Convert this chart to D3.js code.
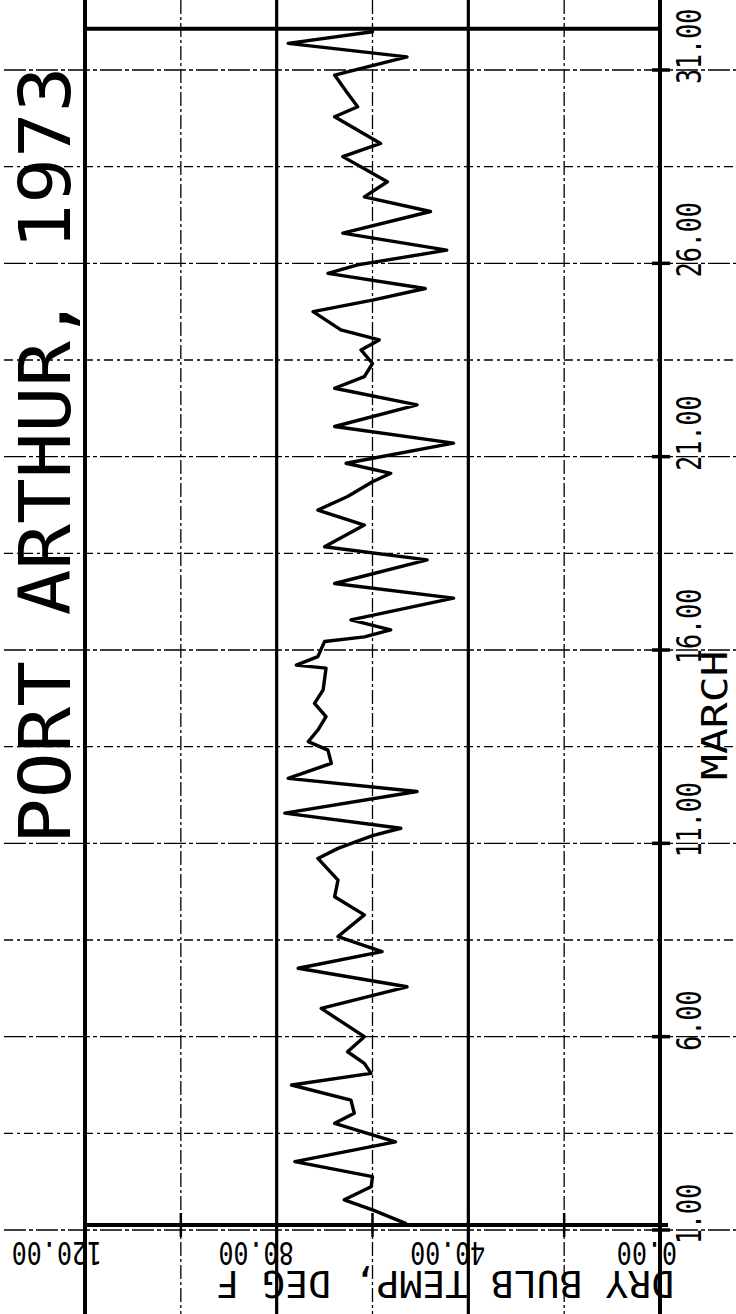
<!DOCTYPE html>
<html><head><meta charset="utf-8">
<script src="https://cdn.jsdelivr.net/npm/d3@7/dist/d3.min.js"></script>
<style>html,body{margin:0;padding:0;background:#fff;} svg{display:block;}</style>
</head><body>
<svg id="c" width="736" height="1314"></svg>
<script>
// ---- data ----
const titleText = "PORT ARTHUR, 1973";
const xAxisTitle = "MARCH";
const yAxisTitle = "DRY BULB TEMP, DEG F";
const dayTicks = [1, 6, 11, 16, 21, 26, 31];
const dayTickLabels = ["1.00", "6.00", "11.00", "16.00", "21.00", "26.00", "31.00"];
const dayGrid = [1, 3.5, 6, 8.5, 11, 13.5, 16, 18.5, 21, 23.5, 26, 28.5, 31];
const tempTicks = [0, 40, 80, 120];
const tempTickLabels = ["0.00", "40.00", "80.00", "120.00"];
const tempMinorGrid = [20, 60, 100];
const frameDays = [1.13, 32.07];

const days = [1.17,1.52,1.78,2.12,2.38,2.77,3.28,3.76,4.02,4.36,4.75,5.05,5.31,5.61,6.0,6.73,7.29,7.77,8.2,8.59,9.15,9.62,10.05,10.61,10.87,
  11.2,11.39,11.78,12.34,12.68,13.07,13.41,13.63,13.93,14.28,14.62,14.97,15.53,15.61,15.83,16.22,16.34,16.52,16.78,17.34,17.72,18.33,18.67,19.23,19.62,19.97,20.35,20.57,20.83,21.35,
  21.78,22.34,22.77,23.07,23.41,23.76,24.02,24.28,24.75,25.05,25.35,25.74,25.96,26.34,26.78,27.34,27.72,28.11,28.76,29.1,29.79,30.05,30.4,30.87,31.34,31.69,31.99];
const temps = [53.1,60.0,65.9,60.3,60.0,76.2,55.2,67.9,63.8,64.5,76.9,60.3,61.7,65.2,61.7,70.7,52.8,75.5,58.0,67.2,61.7,67.9,67.2,71.4,67.2,
  60.0,54.1,78.3,50.7,77.6,68.6,69.3,73.4,71.4,69.7,72.1,70.3,69.7,75.9,71.4,70.0,61.7,56.2,64.5,43.1,67.9,48.6,70.0,61.7,71.4,65.2,60.0,56.2,65.5,43.1,
  67.9,50.7,67.9,61.7,60.0,62.4,58.6,66.6,72.4,60.0,49.0,69.3,63.1,44.5,66.2,47.9,61.7,56.9,66.2,58.3,67.9,63.1,65.2,67.9,52.8,77.6,60.0];

// ---- drawing ----
const W = 736, H = 1314;
const svg = d3.select("#c");
const x = d3.scaleLinear().domain([0, 120]).range([660, 85]);
const y = d3.scaleLinear().domain([1, 31]).range([1230, 70]);
const FONT = "'DejaVu Sans Mono', monospace";

svg.append("rect").attr("width", W).attr("height", H).attr("fill", "#fff");

// horizontal grid (days) across full width
svg.append("g").selectAll("line").data(dayGrid).join("line")
  .attr("x1", 4).attr("x2", W)
  .attr("y1", d => y(d)).attr("y2", d => y(d))
  .attr("stroke", "#000").attr("stroke-width", 1.3)
  .attr("stroke-dasharray", d => (d - 1) % 5 === 0 ? "22,3,4,3" : "9,4,3,4");

// vertical minor grid (dashed)
svg.append("g").selectAll("line").data(tempMinorGrid).join("line")
  .attr("x1", d => x(d)).attr("x2", d => x(d))
  .attr("y1", 0).attr("y2", H)
  .attr("stroke", "#000").attr("stroke-width", 1.3)
  .attr("stroke-dasharray", "14,3,3,3");

// vertical major lines (thick), full height
svg.append("g").selectAll("line").data(tempTicks).join("line")
  .attr("x1", d => x(d)).attr("x2", d => x(d))
  .attr("y1", 0).attr("y2", H)
  .attr("stroke", "#000").attr("stroke-width", d => (d === 0 || d === 120) ? 4 : 3.2);

// frame top/bottom
svg.append("g").selectAll("line").data(frameDays).join("line")
  .attr("x1", x(120)).attr("x2", (d, i) => i === 0 ? x(0) + 8 : x(0))
  .attr("y1", d => y(d)).attr("y2", d => y(d))
  .attr("stroke", "#000").attr("stroke-width", 4);

// day ticks on right frame
svg.append("g").selectAll("line").data(dayTicks).join("line")
  .attr("x1", x(0) - 8).attr("x2", x(0) + 10)
  .attr("y1", d => y(d)).attr("y2", d => y(d))
  .attr("stroke", "#000").attr("stroke-width", 3.5);

// temperature ticks on bottom frame
svg.append("g").selectAll("line").data(d3.range(0, 121, 20)).join("line")
  .attr("x1", d => x(d)).attr("x2", d => x(d))
  .attr("y1", y(frameDays[0]) - 12).attr("y2", y(frameDays[0]) + 12)
  .attr("stroke", "#000").attr("stroke-width", 2.5);

// data line
const pts = days.map((d, i) => [d, temps[i]]);
svg.append("path").datum(pts)
  .attr("fill", "none").attr("stroke", "#000").attr("stroke-width", 3.4)
  .attr("stroke-linejoin", "round").attr("stroke-linecap", "round")
  .attr("d", d3.line().x(d => x(d[1])).y(d => y(d[0])));

// day tick labels (rotated -90), narrow tall plotter-like glyphs
svg.append("g").selectAll("text").data(dayTicks).join("text")
  .attr("transform", d => `translate(701,${y(d) + 14}) rotate(-90) scale(1,1.35)`)
  .attr("font-family", FONT).attr("font-size", 25)
  .text((d, i) => dayTickLabels[i]);

// temperature tick labels (rotated 180)
svg.append("g").selectAll("text").data(tempTicks).join("text")
  .attr("transform", d => `translate(${x(d) + 17},1242) rotate(180) scale(1,1.3)`)
  .attr("font-family", FONT).attr("font-size", 25)
  .text((d, i) => tempTickLabels[i]);

// y axis title (rotated 180)
svg.append("text")
  .attr("transform", `translate(674,1271) rotate(180)`)
  .attr("font-family", FONT).attr("font-size", 38)
  .text(yAxisTitle);

// x axis title
svg.append("text")
  .attr("transform", `translate(727,780) rotate(-90) scale(1,0.82)`)
  .attr("font-family", FONT).attr("font-size", 43)
  .text(xAxisTitle);

// chart title
svg.append("text")
  .attr("transform", `translate(70,844) rotate(-90) scale(1.055,1)`)
  .attr("font-family", FONT).attr("font-size", 72)
  .text(titleText);
</script>
</body></html>
